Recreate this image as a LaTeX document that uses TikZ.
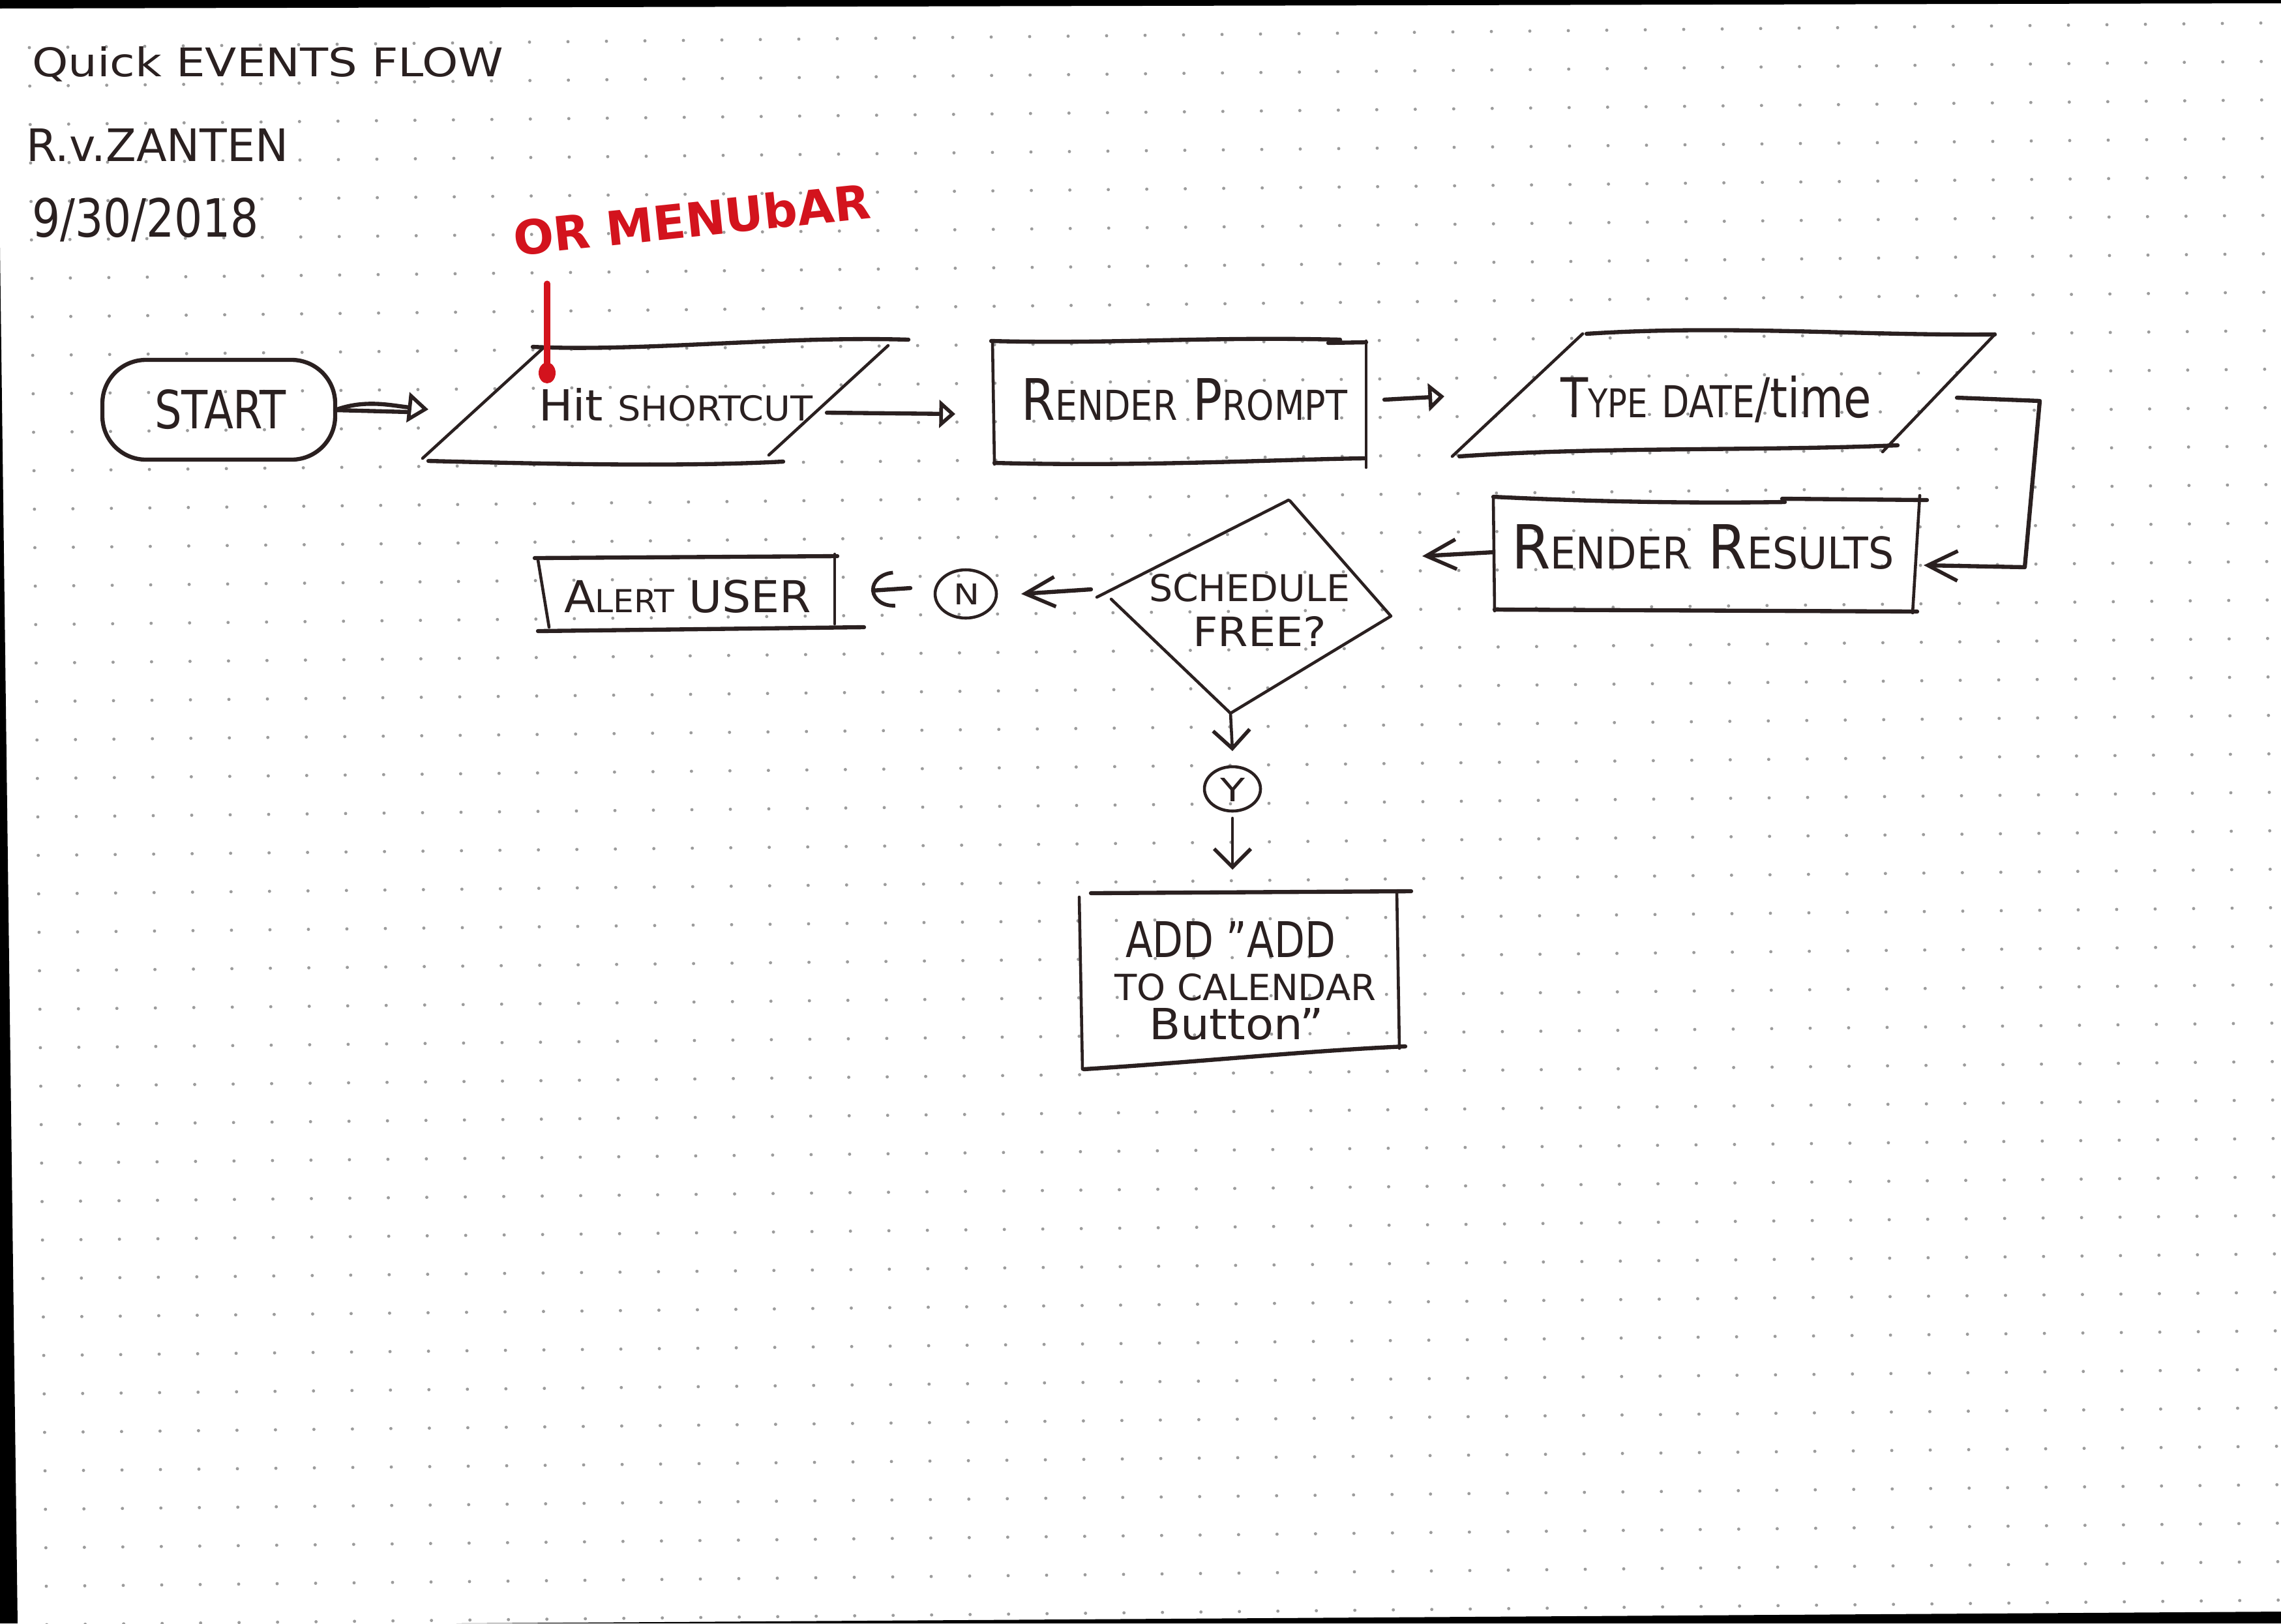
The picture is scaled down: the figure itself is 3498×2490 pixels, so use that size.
\documentclass[tikz,border=0pt]{standalone}
\usepackage{fontspec}
\setmainfont{DejaVu Sans Condensed}
\usepackage{graphicx}
\usetikzlibrary{arrows.meta}
\definecolor{ink}{HTML}{2A2020}
\definecolor{redink}{HTML}{D3131D}
\definecolor{dotc}{HTML}{9C9C9C}
\newcommand\hwt[3]{\resizebox{#1}{#2}{#3}}
\newcommand\hsc[2]{#1\scalebox{0.72}{#2}}
\begin{document}
\begin{tikzpicture}[x=0.01cm,y=-0.01cm,line cap=round,line join=round,
  pen/.style={draw=ink,line width=1.8pt},
  thinpen/.style={draw=ink,line width=1.3pt},
  txt/.style={inner sep=0pt,outer sep=0pt,text=ink,anchor=base west},
  ctxt/.style={inner sep=0pt,outer sep=0pt,text=ink,anchor=center},
  tri/.style={-{Triangle[open,length=9pt,width=13pt,line width=1.6pt]}},
  trib/.style={-{Triangle[open,length=7pt,width=12pt,line width=1.6pt]}},
  barb/.style={-{Straight Barb[length=13pt,width=13pt,line width=1.6pt]}},
  barbs/.style={-{Straight Barb[length=8pt,width=16pt,line width=1.6pt]}},
  arcb/.style={-{Arc Barb[length=10pt,width=16pt,line width=1.6pt]}}]
\useasboundingbox (0,0) rectangle (3498,2490);
% paper
\fill[white] (0,0) rectangle (3498,2490);
\foreach \i in {0,...,59}{\foreach \j in {0,...,41}{
  \fill[dotc] ({45+59*\i+0.65*\j},{73+59*\j-0.65*\i}) circle[radius=0.7pt];}}
\fill[black] (0,0) -- (3498,0) -- (3498,5) -- (0,13) -- cycle;
\fill[black] (0,380) -- (27,2490) -- (0,2490) -- cycle;
\fill[black] (700,2490) -- (3498,2472) -- (3498,2490) -- cycle;

% header
\node[txt] (title) at (49,117) {\hwt{7.23cm}{0.46cm}{Quick EVENTS FLOW}};
\node[txt] (author) at (40,247) {\hwt{4.02cm}{0.5cm}{R.v.ZANTEN}};
\node[txt] (date) at (49,363) {\hwt{3.48cm}{0.6cm}{9/30/2018}};
\node[txt,text=redink,rotate=6] (ornote) at (790,392) {\hwt{5.5cm}{0.55cm}{\bfseries OR MENUbAR}};

% START
\draw[pen,rounded corners=19pt] (157,552) rectangle (514,705);
\node[txt] (start) at (237,657) {\hwt{2.01cm}{0.6cm}{START}};

% Hit shortcut parallelogram
\draw[pen] (817,532) .. controls (980,540) and (1200,515) .. (1393,521);
\draw[thinpen] (1362,530) -- (1179,698);
\draw[pen] (657,707) .. controls (850,712) and (1050,716) .. (1201,708);
\draw[thinpen] (835,532) -- (648,703);
\node[txt] (hit) at (826,645) {\hwt{4.2cm}{0.5cm}{Hit \scalebox{0.8}{SHORTCUT}}};

% RENDER PROMPT box
\draw[pen] (1520,523) .. controls (1700,528) and (1850,516) .. (2055,521);
\draw[pen] (2037,526) -- (2095,525);
\draw[thinpen] (2095,523) -- (2095,717);
\draw[pen] (1525,710) .. controls (1750,716) and (1950,705) .. (2092,703);
\draw[thinpen] (1522,523) -- (1525,712);
\node[txt] (prompt) at (1566,644) {\hwt{5.0cm}{0.64cm}{\hsc{R}{ENDER} \hsc{P}{ROMPT}}};

% TYPE DATE/time parallelogram
\draw[pen] (2433,512) .. controls (2650,498) and (2850,515) .. (3059,513);
\draw[thinpen] (3059,513) -- (2887,693);
\draw[pen] (2238,700) .. controls (2450,685) and (2700,692) .. (2910,683);
\draw[thinpen] (2427,512) -- (2227,700);
\node[txt] (type) at (2393,640) {\hwt{4.77cm}{0.64cm}{\hsc{T}{YPE} \scalebox{0.8}{DATE}/time}};

% RENDER RESULTS box
\draw[pen] (2290,762) .. controls (2450,770) and (2600,772) .. (2737,770);
\draw[pen] (2733,765) -- (2955,767);
\draw[thinpen] (2944,760) -- (2933,940);
\draw[pen] (2292,935) -- (2940,938);
\draw[thinpen] (2290,762) -- (2292,937);
\node[txt] (results) at (2318,872) {\hwt{5.86cm}{0.68cm}{\hsc{R}{ENDER} \hsc{R}{ESULTS}}};

% decision diamond
\draw[thinpen] (1976,767) -- (1682,916);
\draw[thinpen] (1978,768) -- (2133,945) -- (1887,1094) -- (1704,919);
\node[txt] (sched) at (1762,922) {\hwt{3.08cm}{0.42cm}{SCHEDULE}};
\node[txt] (free) at (1829,991) {\hwt{2.05cm}{0.46cm}{FREE?}};

% ALERT USER box
\draw[pen] (820,856) -- (1284,853);
\draw[thinpen] (825,859) -- (842,962);
\draw[thinpen] (1280,850) -- (1280,957);
\draw[pen] (825,968) -- (1325,962);
\node[txt] (alert) at (865,939) {\hwt{3.79cm}{0.5cm}{\hsc{A}{LERT} USER}};

% N and Y circles
\draw[thinpen] (1481,911) ellipse [x radius=47, y radius=37];
\node[ctxt] (nno) at (1482,911) {\hwt{0.4cm}{0.32cm}{N}};
\draw[thinpen] (1890,1210) ellipse [x radius=43, y radius=34];
\node[ctxt] (yes) at (1890,1211) {\hwt{0.38cm}{0.36cm}{Y}};

% ADD box
\draw[pen] (1673,1370) -- (2164,1367);
\draw[thinpen] (1655,1376) -- (1660,1640);
\draw[thinpen] (2142,1367) -- (2146,1608);
\draw[pen] (1662,1640) .. controls (1850,1628) and (2000,1612) .. (2155,1605);
\node[txt] (add1) at (1726,1468) {\hwt{3.22cm}{0.55cm}{ADD "ADD}};
\node[txt] (add2) at (1709,1534) {\hwt{4.01cm}{0.41cm}{TO CALENDAR}};
\node[txt] (add3) at (1762,1594) {\hwt{2.68cm}{0.48cm}{Button"}};

% red annotation line
\coordinate (redtop) at (839,435);
\coordinate (redbot) at (839,572);
\draw[redink,line width=2.6pt] (redtop) -- (redbot);
\fill[redink] (redbot) ellipse [x radius=13, y radius=16];

% connectors
\coordinate (startR) at (514,629);
\coordinate (hitIn) at (657,628);
\coordinate (hitOut) at (1268,633);
\coordinate (promptIn) at (1465,635);
\coordinate (promptOut) at (2123,613);
\coordinate (typeIn) at (2215,608);
\coordinate (typeOut) at (3001,610);
\coordinate (loopA) at (3128,615);
\coordinate (loopB) at (3105,870);
\coordinate (resIn) at (2950,867);
\coordinate (resOut) at (2290,847);
\coordinate (schedIn) at (2181,853);
\coordinate (schedL) at (1673,904);
\coordinate (nIn) at (1566,911);
\coordinate (nOut) at (1396,902);
\coordinate (alertIn) at (1336,906);
\coordinate (schedB) at (1887,1094);
\coordinate (yIn) at (1890,1152);
\coordinate (yOut) at (1890,1255);
\coordinate (addIn) at (1890,1334);

\draw[pen,tri] (startR) .. controls (560,612) and (600,622) .. (hitIn);
\draw[pen] (startR) -- (627,632);
\draw[pen,trib] (hitOut) -- (promptIn);
\draw[pen,trib] (promptOut) -- (typeIn);
\draw[pen,barb] (typeOut) -- (loopA) -- (loopB) -- (resIn);
\draw[pen,barb] (resOut) -- (schedIn);
\draw[pen,barb] (schedL) -- (nIn);
\draw[pen,arcb] (nOut) -- (alertIn);
\draw[thinpen,barbs] (schedB) -- (yIn);
\draw[thinpen,barbs] (yOut) -- (addIn);
\end{tikzpicture}
\end{document}
